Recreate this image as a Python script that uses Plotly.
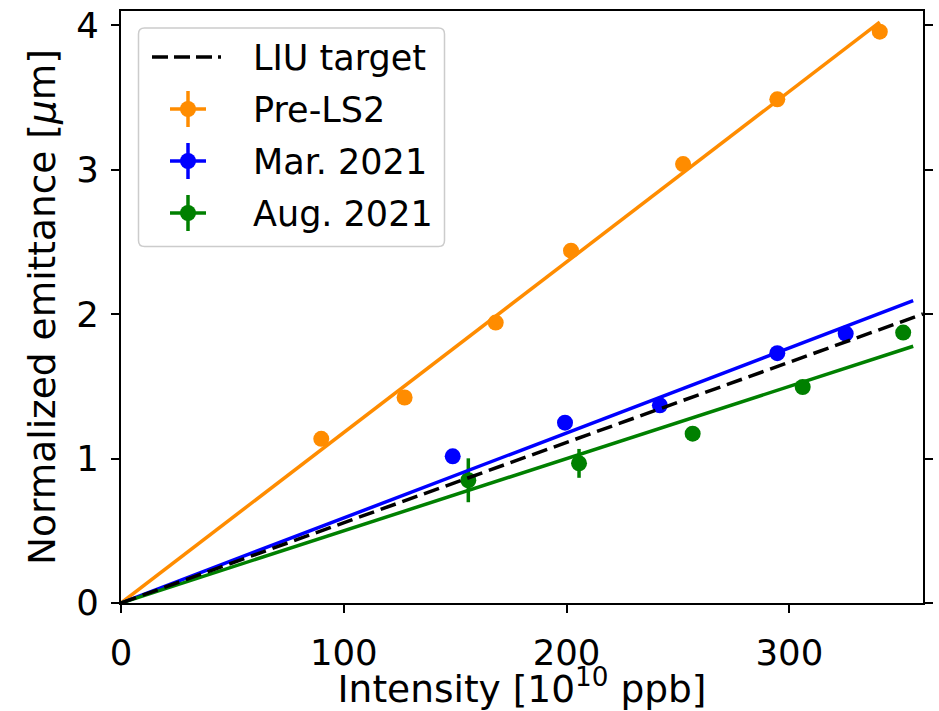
import plotly.graph_objects as go

# ---- measured data -------------------------------------------------------
pre_ls2_x = [89.9, 127.3, 168.2, 202.0, 252.3, 294.6, 340.6]
pre_ls2_y = [1.137, 1.423, 1.942, 2.440, 3.040, 3.488, 3.957]
pre_ls2_xerr = [2.0, 2.0, 2.0, 2.0, 2.0, 2.0, 2.0]
pre_ls2_yerr = [0.02, 0.02, 0.02, 0.02, 0.02, 0.02, 0.02]

mar2021_x = [148.9, 199.3, 241.9, 294.6, 325.3]
mar2021_y = [1.016, 1.249, 1.369, 1.730, 1.866]
mar2021_xerr = [2.0, 2.0, 2.0, 2.0, 2.0]
mar2021_yerr = [0.03, 0.03, 0.03, 0.03, 0.03]

aug2021_x = [155.9, 205.6, 256.6, 306.0, 351.1]
aug2021_y = [0.850, 0.967, 1.173, 1.496, 1.873]
aug2021_xerr = [2.0, 2.0, 2.0, 2.0, 2.0]
aug2021_yerr = [0.152, 0.100, 0.03, 0.03, 0.03]

# linear fits through the origin: slope and end of the fitted range
fit_slope = {"Pre-LS2": 0.01181, "Mar. 2021": 0.00589, "Aug. 2021": 0.00500}
fit_end_x = {"Pre-LS2": 340.6, "Mar. 2021": 355.6, "Aug. 2021": 355.6}

liu_slope = 0.00556
liu_end_x = 360.0

series_names = ["Pre-LS2", "Mar. 2021", "Aug. 2021"]
series_colors = {"Pre-LS2": "#ff8c00", "Mar. 2021": "#0000ff", "Aug. 2021": "#008000"}

x_ticks = [0, 100, 200, 300]
y_ticks = [0, 1, 2, 3, 4]
x_range = [0, 360]
y_range = [0, 4.1]

# ---- figure --------------------------------------------------------------
W, H = 939, 711
ML, MR, MT, MB = 121, 16, 11, 108
FONT = "DejaVu Sans"
FS = 35
FS_TICK = 35.5
FS_TITLE = 37.5

fig = go.Figure()

points = {
    "Pre-LS2": (pre_ls2_x, pre_ls2_y, pre_ls2_xerr, pre_ls2_yerr),
    "Mar. 2021": (mar2021_x, mar2021_y, mar2021_xerr, mar2021_yerr),
    "Aug. 2021": (aug2021_x, aug2021_y, aug2021_xerr, aug2021_yerr),
}

for name in series_names:
    xs, ys, xe, ye = points[name]
    c = series_colors[name]
    fig.add_trace(go.Scatter(
        x=xs, y=ys, mode="markers", name=name, showlegend=False,
        marker=dict(color=c, size=16, line=dict(width=0)),
        error_x=dict(type="data", array=xe, color=c, thickness=3.5, width=0),
        error_y=dict(type="data", array=ye, color=c, thickness=3.5, width=0),
    ))

for name in series_names:
    c = series_colors[name]
    xe = fit_end_x[name]
    fig.add_trace(go.Scatter(
        x=[0, xe], y=[0, fit_slope[name] * xe], mode="lines",
        showlegend=False, line=dict(color=c, width=3.5),
    ))

fig.add_trace(go.Scatter(
    x=[0, liu_end_x], y=[0, liu_slope * liu_end_x], mode="lines",
    name="LIU target", showlegend=False, cliponaxis=True,
    line=dict(color="black", width=3.5, dash="16px,7px"),
))

# ---- legend (drawn in pixel space of the plot area) -----------------------
PW = W - ML - MR
PH = H - MT - MB


def px(xp):
    return (xp - ML) / PW


def py(yp):
    return 1 - (yp - MT) / PH


shapes = []
annotations = []

# rounded frame
L, R, T, B, r = 138.5, 444.5, 28.0, 246.5, 6
path = (f"M {px(L + r)},{py(T)} L {px(R - r)},{py(T)} "
        f"Q {px(R)},{py(T)} {px(R)},{py(T + r)} L {px(R)},{py(B - r)} "
        f"Q {px(R)},{py(B)} {px(R - r)},{py(B)} L {px(L + r)},{py(B)} "
        f"Q {px(L)},{py(B)} {px(L)},{py(B - r)} L {px(L)},{py(T + r)} "
        f"Q {px(L)},{py(T)} {px(L + r)},{py(T)} Z")
shapes.append(dict(type="path", xref="paper", yref="paper", path=path,
                   fillcolor="rgba(255,255,255,0.8)",
                   line=dict(color="#cccccc", width=1.5), layer="above"))

legend_rows = ["LIU target"] + series_names
row_y = [57, 109, 161, 213]
text_x = 251
for label, yc in zip(legend_rows, row_y):
    if label == "LIU target":
        shapes.append(dict(type="line", xref="paper", yref="paper",
                           x0=px(152), x1=px(221), y0=py(yc), y1=py(yc),
                           line=dict(color="black", width=3.5, dash="16px,6px"),
                           layer="above"))
    else:
        c = series_colors[label]
        cx = 188
        shapes.append(dict(type="line", xref="paper", yref="paper",
                           x0=px(cx - 18), x1=px(cx + 18), y0=py(yc), y1=py(yc),
                           line=dict(color=c, width=3.5), layer="above"))
        shapes.append(dict(type="line", xref="paper", yref="paper",
                           x0=px(cx), x1=px(cx), y0=py(yc - 18), y1=py(yc + 18),
                           line=dict(color=c, width=3.5), layer="above"))
        shapes.append(dict(type="circle", xref="paper", yref="paper",
                           x0=px(cx - 8), x1=px(cx + 8), y0=py(yc - 8), y1=py(yc + 8),
                           fillcolor=c, line=dict(width=0), layer="above"))
    annotations.append(dict(xref="paper", yref="paper", x=px(text_x), y=py(yc + 1),
                            xanchor="left", yanchor="middle", showarrow=False,
                            text=label, font=dict(family=FONT, size=FS, color="black")))

axis_common = dict(
    showgrid=False, zeroline=False, showline=True, linecolor="black", linewidth=2,
    ticks="outside", ticklen=8, tickwidth=2, tickcolor="black",
    tickfont=dict(family=FONT, size=FS_TICK, color="black"),
    automargin=False,
)

fig.update_layout(
    width=W, height=H,
    margin=dict(l=ML, r=MR, t=MT, b=MB, pad=0, autoexpand=False),
    paper_bgcolor="white", plot_bgcolor="white",
    font=dict(family=FONT, size=FS, color="black"),
    showlegend=False,
    shapes=shapes, annotations=annotations,
    xaxis=dict(range=x_range, tickvals=x_ticks, mirror=True, ticklabelstandoff=9,
               title=dict(text="Intensity [10<sup>10</sup> ppb]",
                          font=dict(family=FONT, size=FS_TITLE), standoff=2),
               **axis_common),
    yaxis=dict(range=y_range, tickvals=y_ticks, mirror="ticks", ticklabelstandoff=5,
               title=dict(text="Normalized emittance [<i>μ</i>m]",
                          font=dict(family=FONT, size=FS_TITLE), standoff=9),
               **axis_common),
)

fig.write_html("out.html")
